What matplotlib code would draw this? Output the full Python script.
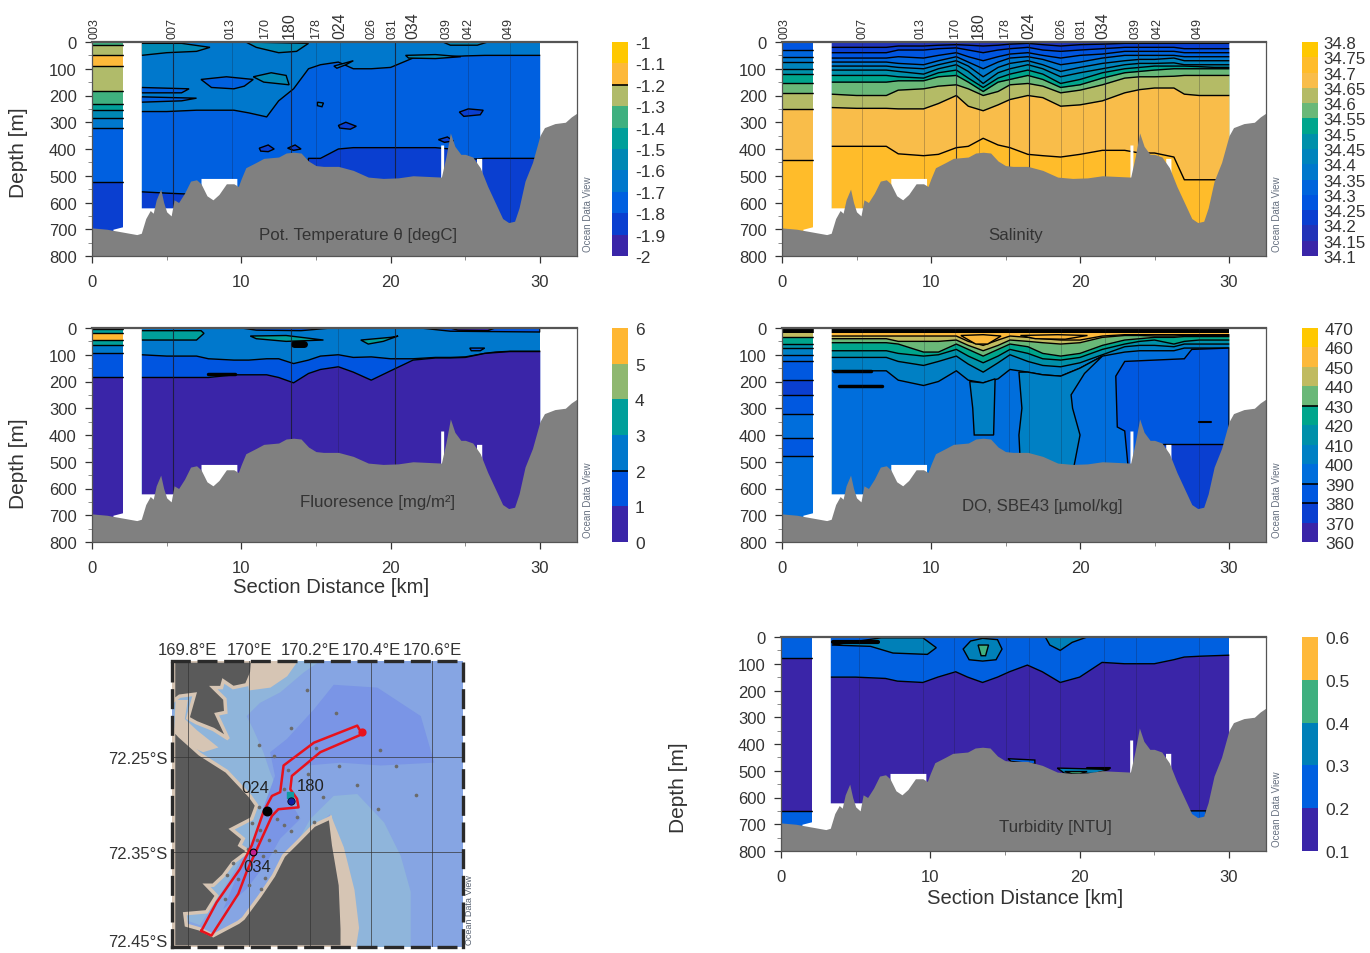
import numpy as np
import matplotlib
matplotlib.use("Agg")
import matplotlib.pyplot as plt
from matplotlib.transforms import ScaledTranslation

plt.rcParams['font.family'] = ['Liberation Sans', 'DejaVu Sans']

W, H = 1370, 954

# --- section geometry, km / m ---
east_x = [3.3, 5, 7, 7.8, 9.5, 10.5, 11.7, 12.5, 13.5, 14.5, 15.3, 16.5, 17.5, 18.7, 20, 21.5, 23, 24, 25, 26.3, 27, 28, 29, 30]
west_x = [0, 2.1]

bathy_x = [0, 1, 1.5, 2.2, 3, 3.3, 3.6, 3.9, 4.1, 4.3, 4.6, 4.8, 5, 5.3, 5.5, 5.8, 6.2, 6.6, 7, 7.3, 7.7, 8.1, 8.5, 9, 9.5, 9.8, 10, 10.3, 11, 11.5, 12.5, 13, 13.5, 14, 14.5, 15, 15.5, 16.5, 17.5, 18.5, 19.5, 20.5, 21.5, 23.4, 23.7, 24, 24.3, 24.7, 25, 25.5, 26, 26.5, 27, 27.5, 27.9, 28.3, 28.6, 29, 29.5, 30, 30.3, 31, 31.7, 32.1, 32.5]
bathy_z = [695, 700, 705, 712, 720, 715, 660, 630, 640, 590, 550, 600, 635, 650, 590, 600, 565, 520, 515, 530, 575, 590, 570, 530, 530, 540, 510, 470, 450, 435, 430, 415, 412, 415, 445, 462, 465, 465, 480, 505, 510, 508, 500, 505, 430, 340, 390, 420, 420, 430, 470, 540, 600, 660, 675, 670, 620, 520, 450, 350, 320, 305, 300, 280, 265]

hull_x = [0, 1.4, 1.4, 2.1, 2.1, 3.3, 3.3, 7.3, 7.3, 9.7, 9.7, 23.35, 23.35, 23.55, 23.55, 25.75, 25.75, 26.1, 26.1, 30, 30, 32.5]
hull_z = [800, 800, 700, 690, 0, 0, 620, 620, 510, 510, 800, 800, 385, 385, 800, 800, 435, 435, 800, 800, 0, 0]

station_names = ['003', '007', '013', '170', '180', '178', '024', '026', '031', '034', '039', '042', '049']
station_x = [0.2, 5.4, 9.3, 11.6, 13.2, 15.0, 16.6, 18.75, 20.1, 21.5, 23.75, 25.2, 27.9]
big_stations = ['180', '024', '034']

# --- potential temperature ---
temp_levels = [-2, -1.9, -1.8, -1.7, -1.6, -1.5, -1.4, -1.3, -1.2, -1.1, -1]
temp_labels = ['-2', '-1.9', '-1.8', '-1.7', '-1.6', '-1.5', '-1.4', '-1.3', '-1.2', '-1.1', '-1']
temp_colors = ['#3a25a8', '#0a3fd0', '#0060e0', '#0078cc', '#0088b4', '#009f9a', '#3fb07f', '#b0bb6a', '#fdb93a', '#ffc800']
temp_m17 = [260, 260, 255, 255, 255, 265, 280, 220, 175, 100, 85, 75, 100, 100, 95, 60, 55, 55, 52, 50, 50, 50, 50, 50]
temp_m18 = [560, 565, 570, 800, 800, 800, 800, 800, 800, 435, 435, 400, 395, 395, 395, 395, 395, 400, 440, 435, 435, 435, 435, 435]
temp_layers = [(2, temp_m17), (1, temp_m18)]
temp_west = [(6, 0), (7, 10), (8, 50), (7, 90), (6, 185), (5, 230), (4, 255), (3, 285), (2, 320), (1, 525)]
temp_blobs = [
    (4, [3.3, 6, 7.9, 7, 5, 3.3], [5, 5, 20, 35, 40, 50]),
    (4, [10.3, 14.5, 13.7, 12.5, 11], [0, 5, 35, 40, 20]),
    (4, [10.8, 12, 13, 13.2, 11.5], [130, 115, 125, 160, 150]),
    (2, [7.3, 9, 10.8, 10.2, 9.5, 8], [140, 130, 140, 165, 175, 170]),
    (2, [3.3, 6.5, 6, 3.3], [170, 175, 190, 190]),
    (2, [3.3, 7, 6, 3.3], [205, 210, 220, 225]),
    (3, [15.1, 15.5, 15.4, 15.1], [225, 228, 242, 238]),
    (1, [16.5, 17, 17.7, 17.3, 16.6], [312, 300, 315, 326, 322]),
    (1, [24.6, 25.2, 26.2, 26, 24.9], [262, 250, 255, 272, 278]),
    (1, [11.2, 11.8, 12.2, 11.8, 11.3], [397, 385, 400, 410, 408]),
    (1, [13.1, 13.6, 14, 13.5], [397, 385, 400, 405]),
    (1, [23.2, 23.8, 24.2, 23.6], [365, 355, 370, 375]),
    (4, [21, 23, 24.7, 23, 21.2], [50, 47, 55, 62, 60]),
    (4, [23.5, 26.5, 25.8, 24], [0, 0, 12, 12]),
    (3, [16.2, 17.5, 17, 16.4], [90, 70, 85, 98]),
]
temp_lines = [5.4, 13.3, 20.3]
temp_faint = [9.4, 15.0, 16.6, 25.2, 28]

# --- salinity ---
salt_levels = [34.1, 34.15, 34.2, 34.25, 34.3, 34.35, 34.4, 34.45, 34.5, 34.55, 34.6, 34.65, 34.7, 34.75, 34.8]
salt_labels = ['34.1', '34.15', '34.2', '34.25', '34.3', '34.35', '34.4', '34.45', '34.5', '34.55', '34.6', '34.65', '34.7', '34.75', '34.8']
salt_colors = ['#3a25a8', '#2233b8', '#0a3fd0', '#0055e0', '#0065dc', '#0078cc', '#0084bc', '#0090aa', '#00a58c', '#6ab878', '#b4bb66', '#f9bd4a', '#ffbc2a', '#ffc800']
salt_20 = [20, 20, 20, 15, 15, 12, 10, 12, 15, 12, 8, 5, 10, 15, 10, 8, 5, 5, 5, 5, 5, 5, 5, 5]
salt_25 = [40, 40, 40, 30, 30, 25, 22, 30, 40, 30, 25, 20, 30, 35, 30, 25, 20, 20, 20, 20, 25, 25, 25, 25]
salt_30 = [60, 60, 60, 55, 60, 50, 40, 55, 70, 55, 45, 40, 50, 60, 50, 45, 35, 35, 35, 35, 40, 40, 40, 40]
salt_35 = [75, 75, 75, 80, 85, 70, 55, 75, 100, 75, 60, 55, 65, 85, 75, 60, 50, 50, 50, 50, 55, 55, 55, 55]
salt_40 = [90, 90, 90, 95, 100, 85, 70, 90, 130, 95, 80, 70, 85, 110, 95, 80, 70, 65, 65, 60, 70, 70, 70, 70]
salt_45 = [105, 105, 105, 110, 120, 100, 85, 110, 155, 115, 100, 85, 100, 130, 115, 100, 85, 80, 80, 78, 85, 85, 85, 85]
salt_50 = [125, 125, 125, 130, 135, 115, 105, 135, 170, 135, 120, 105, 120, 155, 140, 115, 100, 95, 90, 90, 90, 92, 95, 95]
salt_55 = [150, 150, 150, 145, 145, 130, 125, 150, 185, 150, 140, 125, 140, 170, 160, 135, 115, 110, 105, 100, 100, 100, 100, 100]
salt_60 = [195, 200, 200, 180, 175, 165, 160, 175, 200, 185, 160, 155, 165, 190, 180, 160, 135, 130, 130, 128, 125, 125, 125, 125]
salt_65 = [245, 248, 248, 250, 250, 230, 200, 240, 257, 235, 215, 200, 208, 240, 235, 220, 190, 178, 172, 172, 195, 200, 200, 200]
salt_70 = [390, 390, 390, 418, 425, 420, 395, 390, 360, 385, 395, 420, 425, 430, 420, 405, 405, 415, 415, 430, 515, 515, 515, 515]
salt_layers = [(2, salt_20), (3, salt_25), (4, salt_30), (5, salt_35), (6, salt_40), (7, salt_45), (8, salt_50), (9, salt_55), (10, salt_60), (11, salt_65), (12, salt_70)]
salt_west = [(3, 0), (4, 30), (5, 55), (6, 75), (7, 100), (8, 120), (9, 155), (10, 190), (11, 250), (12, 440)]
salt_lines = [11.7, 15.2, 16.6, 21.7, 23.9]
salt_faint = [5.4, 9.5, 13.2, 18.7, 20.2, 25.2, 28]

# --- fluorescence ---
fluor_levels = [0, 1, 2, 3, 4, 5, 6]
fluor_labels = ['0', '1', '2', '3', '4', '5', '6']
fluor_colors = ['#3a25a8', '#0055e0', '#0078cc', '#009f9a', '#8fb870', '#ffb732']
fluor_2 = [100, 105, 105, 115, 120, 120, 115, 115, 133, 120, 105, 100, 110, 108, 115, 115, 110, 110, 108, 95, 90, 87, 87, 87]
fluor_1 = [185, 185, 185, 185, 175, 175, 175, 185, 205, 170, 155, 145, 165, 195, 160, 120, 112, 112, 110, 95, 92, 88, 88, 88]
fluor_layers = [(1, fluor_2), (0, fluor_1)]
fluor_west = [(2, 0), (3, 5), (5, 18), (3, 45), (2, 65), (1, 95), (0, 185)]
fluor_blobs = [
    (3, [3.3, 7.3, 7.5, 7, 3.3], [10, 10, 20, 45, 45]),
    (1, [10, 16, 14, 11], [0, 0, 10, 8]),
    (1, [22, 30, 30, 24], [0, 0, 15, 12]),
    (0, [24, 27, 26.5, 24.5], [0, 0, 10, 8]),
    (3, [10.6, 13, 15.5, 13, 11], [30, 28, 45, 50, 40]),
    (3, [18, 20, 20.5, 19.5, 18.5], [45, 35, 30, 50, 60]),
    (1, [25.3, 26.3, 26, 25.4], [75, 75, 85, 85]),
]
fluor_bold = [([7.8, 9.6], [173, 173], 2.5), ([13.5, 14.2], [60, 60], 5)]
fluor_lines = [5.4, 13.3, 20.3]
fluor_faint = [16.5]

# --- dissolved oxygen ---
do_levels = [360, 370, 380, 390, 400, 410, 420, 430, 440, 450, 460, 470]
do_labels = ['360', '370', '380', '390', '400', '410', '420', '430', '440', '450', '460', '470']
do_colors = ['#3a25a8', '#0a3fd0', '#0058e0', '#006edc', '#0080c4', '#0090aa', '#00a58c', '#6ab878', '#c0bb60', '#fdb93a', '#ffc800']
do_450 = [30, 30, 30, 30, 30, 30, 30, 50, 65, 45, 30, 35, 40, 45, 45, 30, 25, 25, 25, 25, 25, 25, 25, 25]
do_440 = [40, 40, 40, 50, 50, 50, 45, 65, 85, 65, 45, 50, 55, 60, 55, 35, 28, 28, 30, 30, 28, 28, 28, 28]
do_430 = [55, 55, 55, 60, 90, 90, 60, 80, 105, 80, 60, 70, 95, 105, 95, 65, 45, 40, 35, 35, 32, 32, 32, 32]
do_420 = [85, 85, 85, 95, 105, 100, 80, 105, 130, 105, 80, 95, 115, 120, 110, 80, 60, 50, 45, 60, 50, 45, 45, 45]
do_410 = [110, 110, 110, 125, 140, 125, 105, 135, 165, 130, 100, 125, 140, 145, 130, 100, 70, 65, 65, 70, 60, 60, 60, 60]
do_400 = [160, 160, 160, 195, 215, 200, 160, 195, 205, 190, 155, 165, 175, 180, 150, 105, 90, 85, 85, 85, 75, 75, 75, 75]
do_layers = [(8, do_450), (7, do_440), (6, do_430), (5, do_420), (4, do_410), (3, do_400)]
do_west = [(8, 0), (6, 35), (5, 60), (4, 75), (3, 100), (2, 125), (1, 195), (2, 250), (3, 320), (2, 410), (3, 480)]
do_cap_x = [0, 30]
do_cap_z = [20, 20]
do_blobs = [
    (9, [12, 13.5, 14.7, 13.8, 13], [28, 25, 30, 60, 60]),
    (9, [16, 18.5, 20.5, 19, 17], [28, 25, 28, 42, 40]),
    (4, [12.6, 13.5, 14.3, 14.2, 12.9, 12.8], [200, 205, 190, 400, 400, 300]),
    (4, [15.9, 16.5, 17.5, 18.7, 20, 21.5, 20.3, 19.4, 19.5, 20, 19.6, 16, 15.9, 16.1], [165, 165, 175, 180, 150, 105, 170, 250, 300, 400, 515, 515, 400, 300]),
    (2, [22.4, 23, 25, 27, 27.5, 30, 30, 23.7, 23, 22.5], [180, 125, 120, 115, 80, 75, 800, 800, 385, 370]),
    (1, [25.5, 30, 30, 25.5], [435, 435, 800, 800]),
]
do_bold = [([3.5, 6], [160, 160], 2.5), ([3.8, 6.7], [215, 215], 2.5), ([28, 28.8], [350, 350], 1.5)]
do_faint = [5.4, 9.5, 11.6, 15.2, 16.6, 18.7, 21.7, 23.9, 28]

# --- turbidity ---
turb_levels = [0.1, 0.2, 0.3, 0.4, 0.5, 0.6]
turb_labels = ['0.1', '0.2', '0.3', '0.4', '0.5', '0.6']
turb_colors = ['#3a25a8', '#0060e0', '#0080b8', '#3fb07f', '#ffb93a']
turb_02 = [150, 150, 155, 165, 170, 150, 130, 150, 170, 150, 130, 105, 130, 170, 150, 95, 100, 100, 100, 85, 75, 72, 70, 68]
turb_layers = [(0, turb_02)]
turb_west = [(1, 0), (0, 80), (1, 650)]
turb_blobs = [
    (2, [6.7, 9.5, 10.4, 9.8, 7.5, 6, 3.4], [3, 3, 40, 65, 60, 35, 30]),
    (2, [12.7, 13.5, 14.5, 14.8, 14.4, 13.5, 12.6, 12.2], [15, 5, 10, 45, 85, 90, 85, 45]),
    (3, [13.2, 13.9, 13.7, 13.4], [30, 30, 70, 70]),
    (2, [17.7, 20.5, 19.5, 18.7, 18], [0, 0, 20, 50, 30]),
    (1, [15.2, 17, 17, 15.4], [455, 460, 475, 465]),
    (2, [18.5, 22, 21, 19], [490, 495, 510, 510]),
    (3, [19, 20.5, 20, 19.5], [503, 503, 512, 512]),
    (1, [27.4, 28.5, 28.3, 27.5], [650, 650, 700, 700]),
]
turb_bold = [([3.5, 6.5], [20, 20], 3), ([20.5, 22], [491, 491], 1.5)]
turb_faint = [5.2, 9.5, 11.6, 15.1, 16.6, 18.7, 21.6, 23.8, 28]

# --- map, degrees E / degrees S ---
lon_ticks = [169.8, 170, 170.2, 170.4, 170.6]
lon_labels = ['169.8°E', '170°E', '170.2°E', '170.4°E', '170.6°E']
lat_ticks = [72.25, 72.35, 72.45]
lat_labels = ['72.25°S', '72.35°S', '72.45°S']

land_n_lon = [169.753, 170.012, 170.009, 169.992, 169.948, 169.916, 169.910, 169.883, 169.921, 169.924, 169.894, 169.932, 169.883, 169.828, 169.800, 169.822, 169.773, 169.753]
land_n_lat = [72.149, 72.149, 72.161, 72.174, 72.177, 72.170, 72.177, 72.177, 72.189, 72.203, 72.205, 72.231, 72.221, 72.214, 72.209, 72.184, 72.186, 72.191]
land_s_lon = [169.753, 169.773, 169.839, 169.927, 170.003, 170.025, 170.009, 169.943, 169.981, 169.970, 169.998, 169.948, 169.916, 169.883, 169.861, 169.894, 169.861, 169.790, 169.795, 169.839, 169.883, 169.965, 169.981, 170.036, 170.080, 170.113, 170.157, 170.212, 170.266, 170.277, 170.299, 170.305, 170.305, 169.753]
land_s_lat = [72.221, 72.228, 72.247, 72.265, 72.291, 72.301, 72.315, 72.326, 72.336, 72.343, 72.349, 72.361, 72.375, 72.385, 72.385, 72.396, 72.413, 72.415, 72.427, 72.431, 72.438, 72.424, 72.420, 72.396, 72.375, 72.354, 72.340, 72.322, 72.314, 72.343, 72.385, 72.431, 72.450, 72.450]

sand_polys = [
    ([170.012, 170.160, 170.125, 170.070, 170.000, 169.992], [72.149, 72.149, 72.165, 72.177, 72.180, 72.165]),
    ([170.266, 170.31, 170.345, 170.36, 170.35, 170.30], [72.31, 72.345, 72.39, 72.43, 72.45, 72.45]),
    ([169.76, 169.80, 169.79, 169.83, 169.90, 169.85, 169.78, 169.755], [72.19, 72.19, 72.21, 72.222, 72.24, 72.245, 72.235, 72.22]),
]
light_w_lon = [169.773, 169.916, 170.014, 170.233, 170.179, 170.102, 170.036, 169.992, 170.014, 170.047, 170.069, 170.102, 170.047, 170.025, 169.981, 169.938, 169.883, 169.839, 169.753, 169.753]
light_w_lat = [72.186, 72.168, 72.149, 72.149, 72.161, 72.182, 72.193, 72.207, 72.221, 72.245, 72.266, 72.291, 72.301, 72.329, 72.354, 72.378, 72.406, 72.427, 72.417, 72.186]
light_e_lon = [170.157, 170.201, 170.277, 170.354, 170.442, 170.496, 170.529, 170.529, 170.305, 170.266]
light_e_lat = [72.340, 72.315, 72.291, 72.289, 72.319, 72.354, 72.392, 72.45, 72.45, 72.31]
deep_lon = [170.124, 170.212, 170.277, 170.420, 170.562, 170.606, 170.431, 170.299, 170.190, 170.135, 170.124, 170.168, 170.102, 170.058, 169.992, 169.916, 169.970, 170.025, 170.053, 170.085, 170.069]
deep_lat = [72.231, 72.200, 72.174, 72.177, 72.207, 72.256, 72.259, 72.256, 72.259, 72.270, 72.291, 72.315, 72.336, 72.361, 72.389, 72.410, 72.368, 72.333, 72.298, 72.270, 72.245]

track_lon = [169.844, 169.877, 169.965, 169.992, 170.075, 170.096, 170.162, 170.157, 170.135, 170.140, 170.233, 170.370, 170.354, 170.212, 170.113, 170.102, 170.075, 170.047, 170.009, 169.970, 169.894, 169.844]
track_lat = [72.433, 72.438, 72.394, 72.371, 72.312, 72.305, 72.303, 72.294, 72.284, 72.270, 72.245, 72.226, 72.217, 72.235, 72.259, 72.287, 72.291, 72.308, 72.343, 72.368, 72.403, 72.433]

dots_lon = [170.190, 170.283, 170.138, 170.033, 170.083, 170.220, 170.429, 170.481, 170.295, 170.129, 170.192, 170.352, 170.242, 170.546, 170.115, 170.422, 170.034, 170.091, 170.214, 170.157, 170.113, 170.138, 170.009, 170.036, 170.025, 170.064, 169.998, 170.085, 170.047, 169.948, 169.927, 169.965, 170.053, 170.001, 170.039, 169.922]
dots_lat = [72.180, 72.204, 72.220, 72.237, 72.249, 72.241, 72.243, 72.260, 72.260, 72.264, 72.268, 72.280, 72.292, 72.290, 72.284, 72.305, 72.303, 72.315, 72.318, 72.313, 72.322, 72.328, 72.319, 72.327, 72.337, 72.337, 72.347, 72.349, 72.354, 72.362, 72.374, 72.378, 72.377, 72.385, 72.389, 72.399]


def add_axes_px(fig, left, top, right, bottom):
    return fig.add_axes([left / W, 1 - bottom / H, (right - left) / W, (bottom - top) / H])


def draw_section(ax, colors, surface, layers, west, blobs=(), bold=(), lines=(), faint=(), title='', title_x=15, title_z=700, top_labels=False, cap=None):
    ax.fill_between(east_x, 0, 800, color=colors[surface], lw=0)
    for band, depth in layers:
        ax.fill_between(east_x, depth, 800, color=colors[band], lw=0, zorder=2)
        ax.plot(east_x, depth, color='k', lw=1, zorder=2)
    for band, depth in west:
        ax.fill_between(west_x, depth, 800, color=colors[band], lw=0, zorder=2)
        if depth > 0:
            ax.plot(west_x, [depth, depth], color='k', lw=1, zorder=2)
    for band, bx, bz in blobs:
        ax.fill(bx, bz, facecolor=colors[band], edgecolor='k', lw=1, zorder=3)
    for bx, bz, lw in bold:
        ax.plot(bx, bz, color='k', lw=lw, solid_capstyle='round', zorder=3)
    if cap is not None:
        ax.fill_between(cap[0], 0, cap[1], color='k', lw=0, zorder=3)
    for x in lines:
        ax.plot([x, x], [0, 800], color='#1a1a2a', lw=0.8, alpha=0.8, zorder=4)
    for x in faint:
        ax.plot([x, x], [0, 800], color='#1a1a2a', lw=0.5, alpha=0.35, zorder=4)
    # white where there is no data, grey sea floor on top
    ax.fill_between(hull_x, hull_z, 800, color='white', lw=0, zorder=5)
    ax.fill_between(bathy_x, bathy_z, 800, color='#808080', lw=0, zorder=6)

    ax.set_xlim(0, 32.48)
    ax.set_ylim(800, 0)
    ax.set_xticks([0, 10, 20, 30])
    ax.set_xticks([5, 15, 25], minor=True)
    ax.set_yticks(range(0, 801, 100))
    ax.set_yticks(range(50, 800, 100), minor=True)
    ax.tick_params(labelsize=12, colors='#333333', length=5, width=0.9)
    ax.tick_params(axis='x', pad=8)
    ax.tick_params(axis='y', pad=6)
    ax.tick_params(which='minor', length=3, width=0.6, colors='#777777')
    for side in ax.spines:
        ax.spines[side].set_color('#555555')
        ax.spines[side].set_linewidth(0.9)
        ax.spines[side].set_zorder(8)
    ax.spines['top'].set_linewidth(1.6)
    ax.text(title_x, title_z, title, fontsize=12.2, color='#333333', ha='center', va='center', zorder=7)
    ax.text(33.2, 640, 'Ocean Data View', rotation=90, fontsize=7, color='#667080', ha='center', va='center', clip_on=False)
    if top_labels:
        for name, x in zip(station_names, station_x):
            size = 11.5 if name in big_stations else 9
            ax.text(x, -14, name, rotation=90, fontsize=size, color='#333333', ha='center', va='bottom', clip_on=False)


def draw_colorbar(cax, levels, labels, colors, size=12.5, pad=5, black=()):
    for i, c in enumerate(colors):
        cax.bar(0, levels[i + 1] - levels[i], bottom=levels[i], width=1, color=c, lw=0)
    for lv in black:
        cax.plot([-0.5, 0.5], [lv, lv], color='k', lw=1.2)
    cax.set_xlim(-0.5, 0.5)
    cax.set_ylim(levels[0], levels[-1])
    cax.set_xticks([])
    cax.yaxis.tick_right()
    cax.set_yticks(levels)
    cax.set_yticklabels(labels)
    cax.tick_params(length=0, pad=pad, labelsize=size, colors='#333333')
    for side in cax.spines:
        cax.spines[side].set_visible(False)


fig = plt.figure(figsize=(W / 100, H / 100), dpi=100)

ax_temp = add_axes_px(fig, 92, 43, 577, 257)
ax_salt = add_axes_px(fig, 782, 43, 1266, 257)
ax_fluor = add_axes_px(fig, 92, 329, 577, 543)
ax_do = add_axes_px(fig, 782, 329, 1266, 543)
ax_turb = add_axes_px(fig, 781, 638, 1266, 852)

draw_section(ax_temp, temp_colors, 3, temp_layers, temp_west, temp_blobs, lines=temp_lines, faint=temp_faint,
             title='Pot. Temperature θ [degC]', title_x=17.8, title_z=718, top_labels=True)
draw_section(ax_salt, salt_colors, 1, salt_layers, salt_west, lines=salt_lines, faint=salt_faint,
             title='Salinity', title_x=15.7, title_z=718, top_labels=True)
draw_section(ax_fluor, fluor_colors, 2, fluor_layers, fluor_west, fluor_blobs, fluor_bold, fluor_lines, fluor_faint,
             title='Fluoresence [mg/m²]', title_x=19.1, title_z=647)
draw_section(ax_do, do_colors, 9, do_layers, do_west, do_blobs, do_bold, faint=do_faint,
             title='DO, SBE43 [µmol/kg]', title_x=17.5, title_z=665, cap=(do_cap_x, do_cap_z))
draw_section(ax_turb, turb_colors, 1, turb_layers, turb_west, turb_blobs, turb_bold, faint=turb_faint,
             title='Turbidity [NTU]', title_x=18.4, title_z=710)

draw_colorbar(add_axes_px(fig, 612, 43, 628, 257), temp_levels, temp_labels, temp_colors, black=[-1.2])
draw_colorbar(add_axes_px(fig, 1302, 43, 1318, 257), salt_levels, salt_labels, salt_colors, size=12.2, pad=4)
draw_colorbar(add_axes_px(fig, 612, 329, 628, 543), fluor_levels, fluor_labels, fluor_colors, black=[2])
draw_colorbar(add_axes_px(fig, 1302, 329, 1318, 543), do_levels, do_labels, do_colors, black=[380, 390, 430])
draw_colorbar(add_axes_px(fig, 1302, 638, 1318, 852), turb_levels, turb_labels, turb_colors)

fig.text(19 / W, 1 - 153 / H, 'Depth [m]', rotation=90, fontsize=15, color='#333333', ha='center', va='center')
fig.text(19 / W, 1 - 464 / H, 'Depth [m]', rotation=90, fontsize=15, color='#333333', ha='center', va='center')
fig.text(678 / W, 1 - 788 / H, 'Depth [m]', rotation=90, fontsize=15, color='#333333', ha='center', va='center')
fig.text(331 / W, 1 - 588 / H, 'Section Distance [km]', fontsize=14.6, color='#333333', ha='center', va='center')
fig.text(1025 / W, 1 - 899 / H, 'Section Distance [km]', fontsize=14.6, color='#333333', ha='center', va='center')

# map
ax_map = add_axes_px(fig, 172, 662, 463, 948)
ax_map.set_facecolor('#86a5e3')
ax_map.fill(light_w_lon, light_w_lat, color='#8fb5db', lw=0)
ax_map.fill(light_e_lon, light_e_lat, color='#8fb5db', lw=0)
ax_map.fill(deep_lon, deep_lat, color='#7a95e6', lw=0)
for sx, sy in sand_polys:
    ax_map.fill(sx, sy, color='#d6c5b4', lw=0)
ax_map.fill(land_n_lon, land_n_lat, facecolor='#5a5a5a', edgecolor='#d6c5b4', lw=2.5)
ax_map.fill(land_s_lon, land_s_lat, facecolor='#5a5a5a', edgecolor='#d6c5b4', lw=2.5)
for x in lon_ticks:
    ax_map.axvline(x, color='#333333', lw=0.7, alpha=0.7)
for y in lat_ticks:
    ax_map.axhline(y, color='#333333', lw=0.7, alpha=0.7)
ax_map.scatter(dots_lon, dots_lat, s=7, color='#6b6b6b', lw=0, zorder=3)
ax_map.plot(track_lon, track_lat, color='#e8121c', lw=1.8, zorder=4)
ax_map.scatter([170.058], [72.307], s=38, color='k', zorder=5)
ax_map.scatter([170.135], [72.290], s=18, marker='s', color='#109aa0', zorder=5)
ax_map.scatter([170.138], [72.296], s=28, color='#1020a0', edgecolor='k', lw=0.5, zorder=5)
ax_map.scatter([170.014], [72.350], s=24, color='#c02090', edgecolor='k', lw=0.8, zorder=5)
ax_map.scatter([170.368], [72.224], s=24, color='#e8121c', zorder=5)
ax_map.text(170.020, 72.282, '024', fontsize=12, color='#222222', ha='center', va='center', zorder=6)
ax_map.text(170.203, 72.280, '180', fontsize=12, color='#222222', ha='center', va='center', zorder=6)
ax_map.text(170.027, 72.365, '034', fontsize=12, color='#222222', ha='center', va='center', zorder=6)
ax_map.set_xlim(169.748, 170.70)
ax_map.set_ylim(72.45, 72.149)
ax_map.xaxis.tick_top()
ax_map.set_xticks(lon_ticks)
ax_map.set_xticklabels(lon_labels)
ax_map.set_yticks(lat_ticks)
ax_map.set_yticklabels(lat_labels)
ax_map.tick_params(length=0, labelsize=12, colors='#333333')
ax_map.tick_params(axis='x', pad=3)
ax_map.tick_params(axis='y', pad=3)
# bottom latitude label would run off the page, lift it a little
for lab in ax_map.get_yticklabels():
    if lab.get_text() == '72.45°S':
        lab.set_transform(lab.get_transform() + ScaledTranslation(0, 5 / 72, fig.dpi_scale_trans))
for side in ax_map.spines:
    ax_map.spines[side].set_linestyle((0, (5, 3)))
    ax_map.spines[side].set_linewidth(2.4)
    ax_map.spines[side].set_color('#2a2a2a')
ax_map.text(170.72, 72.41, 'Ocean Data View', rotation=90, fontsize=6.5, color='#556070', ha='center', va='center', clip_on=False)

fig.savefig('out.png', dpi=100)
